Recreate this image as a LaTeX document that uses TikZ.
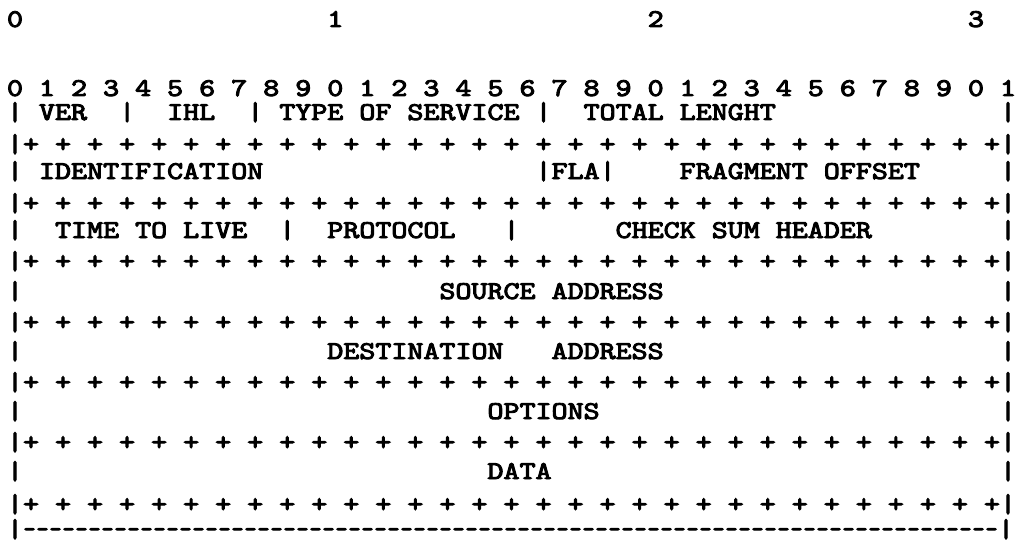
\documentclass[tikz,border=0pt]{standalone}
\usepackage{fontspec}
\usepackage{graphicx}
\newfontfamily\asciifont{lmmono10-regular.otf}[FakeBold=3.5]
\newcommand\gap[1]{\kern#1\fontcharwd\font`0\relax}
\newcommand\sx[1]{\scalebox{1.1964}[1]{#1}}
\begin{document}
\begin{tikzpicture}[x=1pt,y=-1pt,
  txt/.style={anchor=base west, inner sep=0pt, outer sep=0pt,
    font={\asciifont\fontsize{25.5pt}{30pt}\selectfont}}]
\useasboundingbox (0,0) rectangle (1016,540);
% tens of bit numbers
\node[txt] (t0) at (7,27) {\sx{0}};
\node[txt] (t1) at (327.32,27) {\sx{1}};
\node[txt] (t2) at (647.64,27) {\sx{2}};
\node[txt] (t3) at (967.96,27) {\sx{3}};
% bit numbers
\node[txt] (bits) at (7,96) {\sx{0 1 2 3 4 5 6 7 8 9 0 1 2 3 4 5 6 7 8 9 0 1 2 3 4 5 6 7 8 9 0 1}};
% header rows
\node[txt] (r1) at (7,120) {\sx{| VER\gap2|\gap2IHL\gap2| TYPE OF SERVICE |\gap2TOTAL LENGHT\gap{14}|}};
\node[txt] (p1) at (7,152) {\sx{|+ + + + + + + + + + + + + + + + + + + + + + + + + + + + + + +|}};
\node[txt] (r2) at (7,179) {\sx{| IDENTIFICATION\gap{17}|FLA|\gap4FRAGMENT OFFSET\gap5|}};
\node[txt] (p2) at (7,211) {\sx{|+ + + + + + + + + + + + + + + + + + + + + + + + + + + + + + +|}};
\node[txt] (r3) at (7,238) {\sx{|\gap2TIME TO LIVE\gap2|\gap2PROTOCOL\gap3|\gap6CHECK SUM HEADER\gap8|}};
\node[txt] (p3) at (7,269) {\sx{|+ + + + + + + + + + + + + + + + + + + + + + + + + + + + + + +|}};
\node[txt] (r4) at (7,299) {\sx{|\gap{26}SOURCE ADDRESS\gap{21}|}};
\node[txt] (p4) at (7,330) {\sx{|+ + + + + + + + + + + + + + + + + + + + + + + + + + + + + + +|}};
\node[txt] (r5) at (7,359) {\sx{|\gap{19}DESTINATION\gap3ADDRESS\gap{21}|}};
\node[txt] (p5) at (7,390) {\sx{|+ + + + + + + + + + + + + + + + + + + + + + + + + + + + + + +|}};
\node[txt] (r6) at (7,419) {\sx{|\gap{29}OPTIONS\gap{25}|}};
\node[txt] (p6) at (7,450) {\sx{|+ + + + + + + + + + + + + + + + + + + + + + + + + + + + + + +|}};
\node[txt] (r7) at (7,479) {\sx{|\gap{29}DATA\gap{28}|}};
\node[txt] (p7) at (7,512) {\sx{|+ + + + + + + + + + + + + + + + + + + + + + + + + + + + + + +|}};
\node[txt] (dash) at (7,537) {\sx{|}\hbox to 975pt{\xleaders\hbox to 13pt{\hss\scalebox{0.9}[1]{-}\hss}\hfill}\sx{|}};
\end{tikzpicture}
\end{document}
